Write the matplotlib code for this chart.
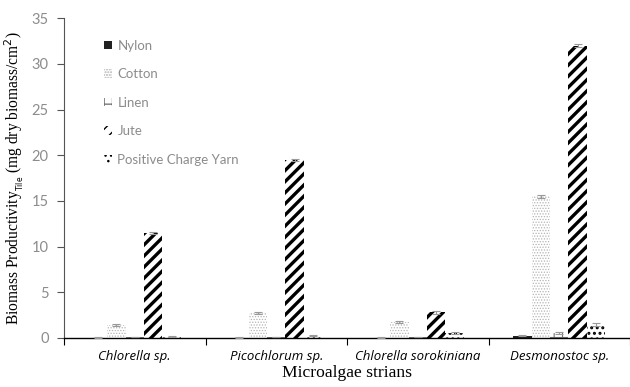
import matplotlib
matplotlib.use("Agg")
import matplotlib.pyplot as plt
import numpy as np
from matplotlib.patches import Patch

strains = ["Chlorella sp.", "Picochlorum sp.", "Chlorella sorokiniana", "Desmonostoc sp."]
yarns = ["Nylon", "Cotton", "Linen", "Jute", "Positive Charge Yarn"]

nylon = [0.03, 0.03, 0.03, 0.22]
cotton = [1.4, 2.7, 1.7, 15.5]
linen = [0.08, 0.08, 0.08, 0.55]
jute = [11.5, 19.5, 2.8, 32.0]
positive = [0.18, 0.28, 0.5, 1.5]

nylon_err = [0.02, 0.02, 0.02, 0.05]
cotton_err = [0.1, 0.1, 0.1, 0.15]
linen_err = [0.03, 0.03, 0.03, 0.1]
jute_err = [0.1, 0.1, 0.15, 0.15]
positive_err = [0.05, 0.05, 0.1, 0.15]

yticks = [0, 5, 10, 15, 20, 25, 30, 35]

values = [nylon, cotton, linen, jute, positive]
errors = [nylon_err, cotton_err, linen_err, jute_err, positive_err]
styles = [
    dict(facecolor="#222222", edgecolor="#222222", hatch=None, hlw=1.0),
    dict(facecolor="white", edgecolor="#b4b4b4", hatch="......", hlw=0.6),
    dict(facecolor="white", edgecolor="#777777", hatch="++", hlw=0.8),
    dict(facecolor="white", edgecolor="black", hatch="///", hlw=2.4),
    dict(facecolor="white", edgecolor="black", hatch="...", hlw=1.4),
]

grey = "#8c8c8c"
fig = plt.figure(figsize=(6.3, 3.87), dpi=100)
ax = fig.add_axes([0.1016, 0.127, 0.8984, 0.826])

x = np.arange(len(strains))
width = 0.13
handles = []
for i, (vals, errs, st) in enumerate(zip(values, errors, styles)):
    with plt.rc_context({"hatch.linewidth": st["hlw"]}):
        pos = x + (i - 2) * width
        ax.bar(pos, vals, width, facecolor=st["facecolor"], edgecolor=st["edgecolor"],
               hatch=st["hatch"], linewidth=0, zorder=2)
        ax.errorbar(pos, vals, yerr=errs, fmt="none", ecolor="#999999",
                    elinewidth=0.8, capsize=3, capthick=0.8, zorder=3)
        handles.append(Patch(facecolor=st["facecolor"], edgecolor=st["edgecolor"],
                             hatch=st["hatch"], linewidth=0, label=yarns[i]))

ax.set_xlim(-0.5, 3.49)
ax.set_ylim(0, 35)
ax.set_yticks(yticks)
ax.set_yticklabels([str(t) for t in yticks], color=grey, fontsize=10.5, family="Lato")
ax.tick_params(axis="y", direction="out", length=5, color="#555555", width=0.8, pad=6)

ax.set_xticks(x)
ax.set_xticklabels(strains, fontstyle="italic", fontsize=9.5, family="Open Sans")
ax.set_xticks(np.arange(-0.5, 4.0, 1.0), minor=True)
ax.tick_params(axis="x", which="major", length=0, pad=9)
ax.tick_params(axis="x", which="minor", direction="out", length=5, color="black", width=0.8)

for s in ["top", "right"]:
    ax.spines[s].set_visible(False)
ax.spines["left"].set_color("#555555")
ax.spines["left"].set_linewidth(0.8)
ax.spines["bottom"].set_color("black")
ax.spines["bottom"].set_linewidth(1.0)

plt.rcParams["mathtext.fontset"] = "stix"
ax.set_ylabel("Biomass Productivity$_{_{\\mathrm{Tile}}}$ (mg dry biomass/cm$^{2}$)",
              family="Liberation Serif", fontsize=11.2, labelpad=4)
ax.set_xlabel("Microalgae strians", family="Liberation Serif", fontsize=12.6, labelpad=1)

leg = ax.legend(handles=handles, loc="upper left", bbox_to_anchor=(0.05, 0.97),
                frameon=False, handlelength=0.6, handleheight=0.6,
                handletextpad=0.4, labelspacing=1.25, prop={"family": "Lato", "size": 9.5})
for t in leg.get_texts():
    t.set_color(grey)

fig.savefig("out.png", dpi=100)
